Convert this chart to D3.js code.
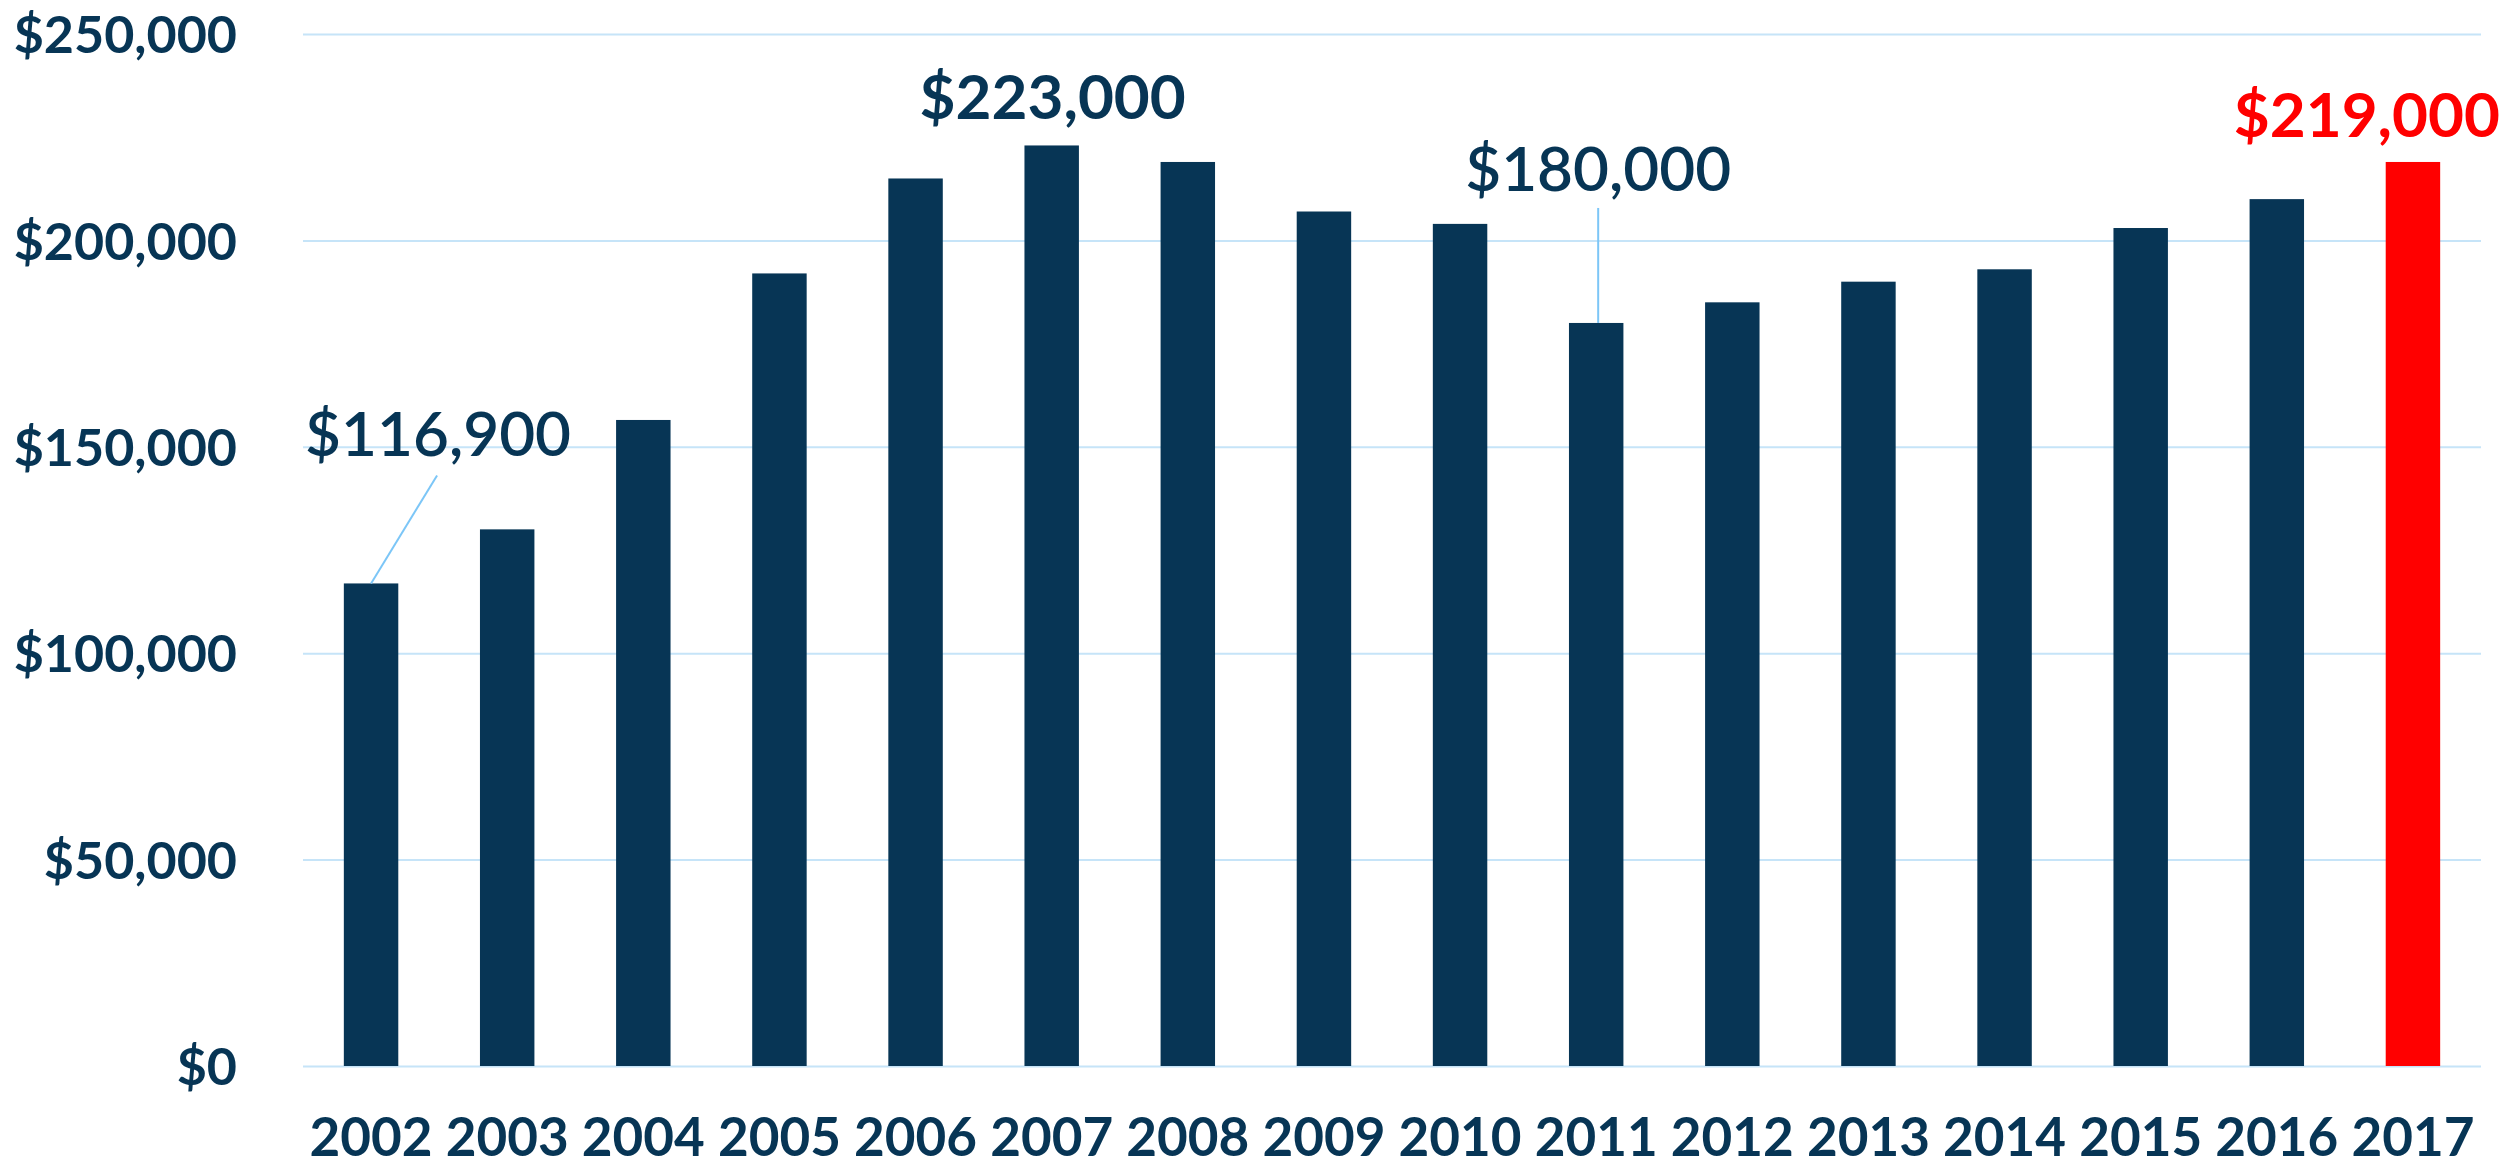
<!DOCTYPE html>
<html>
<head>
<meta charset="utf-8">
<script src="https://cdn.jsdelivr.net/npm/d3@7"></script>
<style>
  html, body { margin: 0; padding: 0; background: #ffffff; }
  svg { display: block; }
</style>
</head>
<body>
<svg id="chart" width="2509" height="1167"></svg>
<script>
// ---- data ----
const years = ["2002","2003","2004","2005","2006","2007","2008","2009","2010","2011","2012","2013","2014","2015","2016","2017"];
const prices = [116900, 130000, 156500, 192000, 215000, 223000, 219000, 207000, 204000, 180000, 185000, 190000, 193000, 203000, 210000, 219000];
const yTicks = [0, 50000, 100000, 150000, 200000, 250000];
const annotYears = ["2002", "2007", "2011", "2017"];
const annotLabels = ["$116,900", "$223,000", "$180,000", "$219,000"];
const highlightYear = "2017";

// ---- layout ----
const W = 2509, H = 1167;
const margin = { top: 34, right: 28, bottom: 101, left: 303 };
const navy = "#073555", red = "#ff0000", grid = "#c6e4f8", leader = "#7cc6f7";
const font = "Lato, 'Open Sans', 'DejaVu Sans', sans-serif";

const svg = d3.select("#chart");

const x = d3.scaleBand()
  .domain(years)
  .range([margin.left, W - margin.right])
  .paddingInner(0.6)
  .paddingOuter(0.3);

const y = d3.scaleLinear()
  .domain([0, 250000])
  .range([H - margin.bottom, margin.top]);

const fmt = v => "$" + d3.format(",")(v);

// gridlines + y labels
const yAxis = d3.axisLeft(y)
  .tickValues(yTicks)
  .tickSize(-(W - margin.right - margin.left))
  .tickPadding(66)
  .tickFormat(fmt);

const gy = svg.append("g")
  .attr("transform", `translate(${margin.left},0)`)
  .call(yAxis);
gy.select(".domain").remove();
gy.selectAll(".tick line").attr("stroke", grid).attr("stroke-width", 2);
gy.selectAll(".tick text")
  .attr("fill", navy)
  .attr("font-family", font)
  .attr("font-weight", 700)
  .attr("font-size", 52)
  .attr("dy", "0.36em");

// x labels
const xAxis = d3.axisBottom(x).tickSize(0).tickPadding(52);
const gx = svg.append("g")
  .attr("transform", `translate(0,${H - margin.bottom})`)
  .call(xAxis);
gx.select(".domain").remove();
gx.selectAll(".tick text")
  .attr("fill", navy)
  .attr("font-family", font)
  .attr("font-weight", 700)
  .attr("font-size", 53);

// bars
svg.append("g")
  .selectAll("rect")
  .data(years.map((yr, i) => ({ year: yr, value: prices[i] })))
  .join("rect")
  .attr("x", d => x(d.year))
  .attr("y", d => y(d.value))
  .attr("width", x.bandwidth())
  .attr("height", d => y(0) - y(d.value))
  .attr("fill", d => d.year === highlightYear ? red : navy);

// annotations
const valueOf = yr => prices[years.indexOf(yr)];
const cx = yr => x(yr) + x.bandwidth() / 2;
const ann = svg.append("g").attr("font-family", font);

annotYears.forEach((yr, i) => {
  const bx = cx(yr), by = y(valueOf(yr));
  const label = annotLabels[i];
  if (yr === "2002") {
    ann.append("line")
      .attr("x1", bx).attr("y1", by)
      .attr("x2", bx + 66).attr("y2", by - 108)
      .attr("stroke", leader).attr("stroke-width", 2);
    ann.append("text")
      .attr("x", bx + 67).attr("y", by - 127)
      .attr("text-anchor", "middle")
      .attr("font-size", 62).attr("font-weight", 600)
      .attr("fill", navy).text(label);
  } else if (yr === "2011") {
    ann.append("line")
      .attr("x1", bx + 2).attr("y1", by)
      .attr("x2", bx + 2).attr("y2", by - 115)
      .attr("stroke", leader).attr("stroke-width", 2);
    ann.append("text")
      .attr("x", bx + 2).attr("y", by - 132)
      .attr("text-anchor", "middle")
      .attr("font-size", 62).attr("font-weight", 600)
      .attr("fill", navy).text(label);
  } else if (yr === highlightYear) {
    ann.append("text")
      .attr("x", W - 9).attr("y", by - 25)
      .attr("text-anchor", "end")
      .attr("font-size", 62).attr("font-weight", 700)
      .attr("fill", red).text(label);
  } else {
    ann.append("text")
      .attr("x", bx + 1).attr("y", by - 26)
      .attr("text-anchor", "middle")
      .attr("font-size", 62).attr("font-weight", 700)
      .attr("fill", navy).text(label);
  }
});
</script>
</body>
</html>
